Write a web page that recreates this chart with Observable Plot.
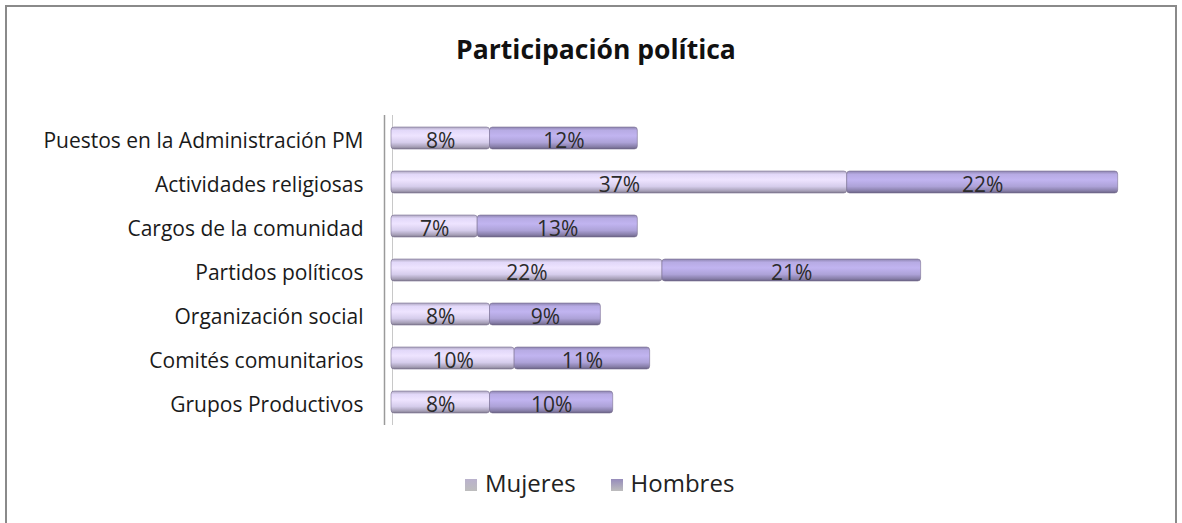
<!DOCTYPE html>
<html>
<head>
<meta charset="utf-8">
<script src="https://cdn.jsdelivr.net/npm/d3@7"></script>
<script src="https://cdn.jsdelivr.net/npm/@observablehq/plot@0.6"></script>
<style>
  body { margin: 0; background: #fff; }
  #wrap { position: relative; width: 1182px; height: 523px; overflow: hidden; background: #fff; font-family: "Open Sans", sans-serif; }
  #frame { position: absolute; left: 5px; top: 5px; width: 1172px; height: 530px; border: 2px solid #8a8a8a; box-sizing: border-box; }
  #title { position: absolute; top: 31px; left: 0; width: 1192px; text-align: center; font-weight: bold; font-size: 26.5px; color: #111; }
  #legend { position: absolute; top: 466px; left: 465px; display: flex; font-size: 24px; color: #222; }
  #legend span.item { display: inline-flex; align-items: center; margin-right: 35px; }
  #legend span.sw { display: inline-block; width: 12px; height: 12px; margin-right: 8px; margin-top: 4px; }
  svg { position: absolute; left: 0; top: 0; }
</style>
</head>
<body>
<div id="wrap">
  <div id="frame"></div>
  <div id="title"></div>
  <div id="legend"></div>
</div>
<script>
const chartTitle = "Participación política";
const categories = [
  "Puestos en la Administración PM",
  "Actividades religiosas",
  "Cargos de la comunidad",
  "Partidos políticos",
  "Organización social",
  "Comités comunitarios",
  "Grupos Productivos"
];
const seriesNames = ["Mujeres", "Hombres"];
const mujeres = [8, 37, 7, 22, 8, 10, 8];
const hombres = [12, 22, 13, 21, 9, 11, 10];
const seriesColors = ["#d6cdec", "#ada2d8"];

const data = [];
categories.forEach((c, i) => {
  data.push({cat: c, sex: seriesNames[0], value: mujeres[i]});
  data.push({cat: c, sex: seriesNames[1], value: hombres[i]});
});

document.getElementById("title").textContent = chartTitle;

const fills = ["url(#gradM)", "url(#gradH)"];

const plot = Plot.plot({
  width: 1182,
  height: 523,
  marginLeft: 391,
  marginRight: 52,
  marginTop: 115,
  marginBottom: 98,
  style: {background: "transparent", fontFamily: "'Open Sans', sans-serif"},
  x: {domain: [0, 60], axis: null},
  y: {domain: categories, paddingInner: 0.5, paddingOuter: 0.25, label: null},
  color: {domain: seriesNames, range: fills},
  marks: [
    Plot.ruleX([0], {stroke: "#9a9a9a", strokeWidth: 1.5, dx: -7}),
    Plot.ruleX([0], {stroke: "#c8c8c8", strokeWidth: 1, dx: 1}),
    Plot.barX(data, Plot.stackX({
      x: "value", y: "cat", fill: "sex", order: seriesNames,
      stroke: "#756a8c", strokeWidth: 0.8, strokeOpacity: 0.7, rx: 3
    })),
    Plot.text(data, Plot.stackX({
      x: "value", y: "cat", z: "sex", order: seriesNames,
      text: d => d.value + "%", fontSize: 21, fill: "#2b2b2b", dy: 3
    })),
    Plot.axisY({tickSize: 0, tickPadding: 28, fontSize: 21, label: null, color: "#1a1a1a", dy: 3})
  ]
});

// gradients for cylinder look
const ns = "http://www.w3.org/2000/svg";
const defs = document.createElementNS(ns, "defs");
function grad(id, base) {
  const c = d3.color(base);
  const g = document.createElementNS(ns, "linearGradient");
  g.setAttribute("id", id);
  g.setAttribute("x1", "0"); g.setAttribute("y1", "0");
  g.setAttribute("x2", "0"); g.setAttribute("y2", "1");
  const stops = [
    [0, c.darker(0.6)],
    [0.15, c.brighter(0.15)],
    [0.4, c.brighter(0.3)],
    [0.7, c],
    [0.9, c.darker(0.7)],
    [1, c.darker(1.4)]
  ];
  stops.forEach(([o, col]) => {
    const s = document.createElementNS(ns, "stop");
    s.setAttribute("offset", o);
    s.setAttribute("stop-color", col.formatHex());
    g.appendChild(s);
  });
  defs.appendChild(g);
}
grad("gradM", seriesColors[0]);
grad("gradH", seriesColors[1]);
plot.insertBefore(defs, plot.firstChild);

document.getElementById("wrap").appendChild(plot);

const legend = document.getElementById("legend");
seriesNames.forEach((n, i) => {
  const item = document.createElement("span");
  item.className = "item";
  const sw = document.createElement("span");
  sw.className = "sw";
  sw.style.background = `linear-gradient(${d3.color(seriesColors[i]).darker(0.4)}, #bdbdbd)`;
  item.appendChild(sw);
  item.appendChild(document.createTextNode(n));
  legend.appendChild(item);
});
</script>
</body>
</html>
